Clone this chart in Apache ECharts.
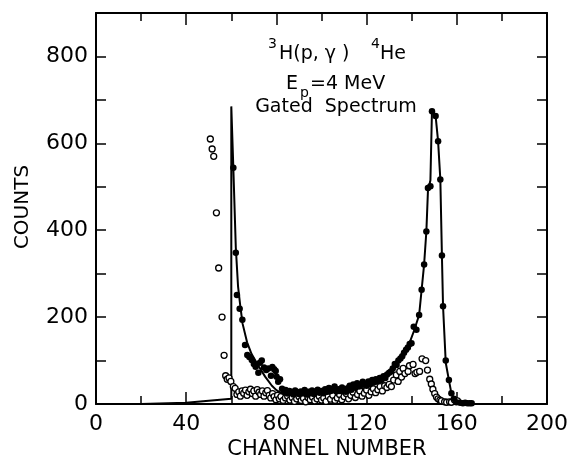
<!DOCTYPE html>
<html>
<head>
<meta charset="utf-8">
<script src="https://cdn.jsdelivr.net/npm/echarts@6/dist/echarts.min.js"></script>
<style>
html,body{margin:0;padding:0;background:#fff;}
#c{width:571px;height:459px;}
</style>
</head>
<body>
<div id="c"></div>
<script>
// ---- data ----
var xTicks = [0, 40, 80, 120, 160, 200];
var yTicks = [0, 200, 400, 600, 800];

// gated spectrum (filled dots)
var filledChannel = [60.9,62,62.5,63.7,64.9,66.1,67.1,68,69.1,70,70.8,72,72.7,73.5,74.5,75.5,76.4,77.6,78.2,79,79.7,80.1,80.8,81.6,
  82.5,83.3,84.1,85,85.8,86.6,87.5,88.3,89.1,90,90.8,91.6,92.5,93.3,94.1,95,95.8,96.6,97.5,98.3,99.1,100,100.8,101.6,102.5,103.3,
  104.1,105,105.8,106.6,107.5,108.3,109.1,110,110.8,111.6,112.5,113.3,114.1,115,115.8,116.6,117.5,118.3,119.1,120,120.8,121.6,
  122.5,123.3,124.1,125,125.8,126.6,127.5,128.3,129.1,130,130.8,131.6,132.5,133.3,134.1,135,135.8,136.6,137.5,138.3,139.1,139.9,
  140.9,142.1,143.3,144.4,145.5,146.5,147.2,148.3,149,150.6,151.7,152.7,153.4,153.9,155.1,156.5,157.6,158.7,159.8,161.5,162.7,
  163.7,164.7,165.7,166.6];
var filledCounts = [544,348,251,219,194,136,113,108,101,92,86,72,95,100,84,78,82,65,85,80,76,63,51,57,
  35,28,32,24,30,26,22,31,27,23,29,25,32,22,28,25,31,23,29,33,26,30,25,34,28,37,
  30,35,40,29,34,30,38,32,28,36,42,33,45,38,48,40,44,51,46,42,52,47,
  55,50,57,53,60,55,64,60,68,72,75,82,92,90,100,105,110,118,125,130,138,140,
  178,171,205,263,321,397,497,501,674,663,605,517,342,225,100,55,25,12,4,3,2,
  3,2,2,2];

// ungated spectrum (open circles)
var openChannel = [50.7,51.5,52.2,53.4,54.4,55.9,56.8,57.5,58.2,59,59.8,60.9,61.7,
  62.5,63.3,64,64.8,65.5,66.3,67,67.8,68.5,69.3,70,70.8,71.5,72.3,73,73.8,74.5,75.3,76,76.8,77.5,78.3,79,79.8,80.5,81.3,82,
  83,84,85,86,87,88,89,90,91,92,93,94,95,96,97,98,99,100,101,102,103,104,105,106,107,108,109,110,111,112,113,114,115,116,117,
  118,119,120,121,122,123,124,125,126,127,128,129,130,131,132,133.2,134,134.7,135.5,136.2,137,138.4,139,140.6,141.5,142.3,143.5,
  144.6,146.2,147,148,148.7,149.4,150.2,151,151.7,152.5,153.2,154.6,155.5,156.8,157.6,159,160.3];
var openCounts = [610,587,570,440,313,200,112,65,57,60,52,40,36,
  22,28,18,30,25,32,20,28,34,24,30,18,33,27,22,30,18,26,31,20,14,24,17,10,20,12,17,
  8,14,18,9,15,6,12,17,8,13,5,15,10,16,7,12,18,9,14,6,17,11,20,8,14,22,10,17,24,12,20,27,15,22,30,
  18,25,32,20,28,35,26,33,40,30,42,38,45,40,55,67,52,75,62,82,70,75,88,91,70,73,75,
  104,100,78,57,46,34,24,16,12,9,7,5,4,5,4,9,7];

// fitted curve (solid line)
var fitChannel = [20,40,60,60,60.9,62,63,64,65,67,69,72,75,78,80,83,90,100,110,120,125,130,133,135,137,139,141,143.3,
  144.4,145.5,146.5,147.2,148.3,149,150.6,151.7,152.7,153.4,153.9,155.1,156.5,157.6,159,160];
var fitCounts = [0,3,12,685,544,360,270,225,185,142,115,88,63,42,32,22,18,20,26,38,48,68,88,105,121,140,168,205,
  263,321,397,490,515,678,663,605,517,342,225,95,55,25,8,0];

// ---- chart ----
function zip(a, b) { var r = []; for (var i = 0; i < a.length; i++) r.push([a[i], b[i]]); return r; }
var FONT = 'DejaVu Sans';
var chart = echarts.init(document.getElementById('c'), null, {renderer: 'canvas'});

function axisBase(pos, showLabel, isX) {
  return {
    type: 'value', position: pos,
    min: 0, max: isX ? 200 : 900, interval: isX ? 40 : 100,
    axisLine: {show: true, onZero: false, lineStyle: {color: '#000', width: 2}},
    axisTick: {show: true, inside: true, length: isX ? 12 : 10, lineStyle: {color: '#000', width: 1.5}},
    minorTick: {show: isX, splitNumber: 2, length: 8, lineStyle: {color: '#000', width: 1.5}},
    splitLine: {show: false},
    axisLabel: {
      show: showLabel, color: '#000', fontFamily: FONT, fontSize: 22, margin: isX ? 9 : 8,
      formatter: function (v) {
        var list = isX ? xTicks : yTicks;
        return list.indexOf(v) >= 0 ? String(v) : '';
      }
    }
  };
}

var T = function (x, y, text, size, extra) {
  var s = {text: text, font: size + 'px "DejaVu Sans"', fill: '#000', verticalAlign: 'middle'};
  if (extra) for (var k in extra) s[k] = extra[k];
  return {type: 'text', x: x, y: y, style: s, z: 10};
};

chart.setOption({
  animation: false,
  backgroundColor: '#fff',
  grid: {left: 96, right: 24, top: 13, bottom: 55},
  xAxis: [axisBase('bottom', true, true), axisBase('top', false, true)],
  yAxis: [axisBase('left', true, false), axisBase('right', false, false)],
  graphic: [
    T(268, 44, '3', 14),
    T(279, 54, 'H(p, γ )', 19),
    T(371, 44, '4', 14),
    T(380, 54, 'He', 19),
    T(286, 84, 'E', 19),
    T(300, 93, 'p', 14),
    T(310, 84, '=4 MeV', 19),
    T(336, 107, 'Gated  Spectrum', 19, {align: 'center'}),
    T(327, 450, 'CHANNEL NUMBER', 21, {align: 'center'}),
    {type: 'text', x: 23, y: 207, rotation: Math.PI / 2, z: 10,
     style: {text: 'COUNTS', font: '20px "DejaVu Sans"', fill: '#000', align: 'center', verticalAlign: 'middle'}}
  ],
  series: [
    {
      type: 'line', data: zip(fitChannel, fitCounts), symbol: 'none',
      lineStyle: {color: '#000', width: 2}, z: 2, silent: true
    },
    {
      type: 'scatter', data: zip(openChannel, openCounts), symbol: 'circle', symbolSize: 6,
      itemStyle: {color: '#fff', borderColor: '#000', borderWidth: 1.3, opacity: 1}, z: 3
    },
    {
      type: 'scatter', data: zip(filledChannel, filledCounts), symbol: 'circle', symbolSize: 6.5,
      itemStyle: {color: '#000', opacity: 1}, z: 4
    }
  ]
});
</script>
</body>
</html>
